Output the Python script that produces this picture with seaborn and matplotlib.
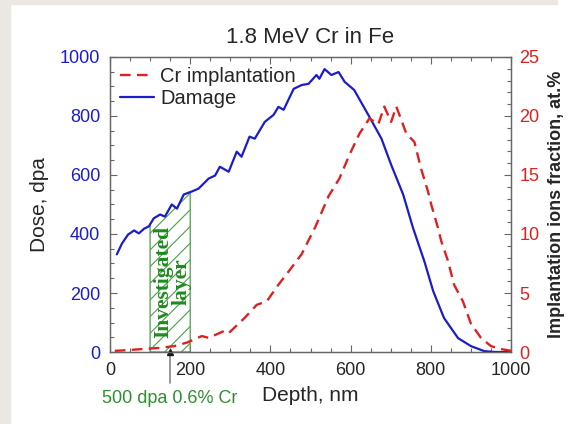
import numpy as np
import pandas as pd
import matplotlib.pyplot as plt
import matplotlib.patches as mpatches
import seaborn as sns

# values
damage_depth = [17, 30, 45, 60, 72, 85, 97, 109, 125, 137, 154, 167, 184, 204, 221,
                246, 262, 274, 296, 316, 328, 348, 361, 386, 408, 420, 433, 458, 478,
                495, 515, 522, 535, 552, 570, 585, 609, 644, 677, 701, 731, 756, 784,
                806, 833, 868, 900, 933, 960, 1000]
damage_dpa = [331, 368, 398, 412, 402, 418, 426, 453, 466, 459, 500, 486, 534, 544, 554,
              588, 598, 628, 611, 679, 662, 730, 723, 780, 804, 831, 821, 892, 905,
              909, 939, 926, 959, 939, 949, 916, 888, 804, 723, 635, 534, 419, 307,
              206, 115, 47, 20, 3, 0, 0]

cr_depth = [12, 40, 80, 125, 160, 192, 229, 246, 286, 296, 336, 366, 391, 420, 445,
            478, 512, 545, 572, 597, 622, 647, 669, 684, 701, 714, 739, 759, 776, 793,
            801, 818, 826, 843, 858, 880, 900, 925, 950, 975, 1000]
cr_frac = [0.1, 0.15, 0.25, 0.35, 0.5, 0.8, 1.35, 1.2, 1.8, 1.6, 2.9, 4.0, 4.3, 5.7, 6.8,
           8.3, 10.6, 13.2, 14.7, 16.7, 18.5, 19.8, 19.3, 20.8, 19.5, 20.8, 18.5, 17.8, 15.5, 13.6,
           12.5, 10.5, 9.4, 7.7, 5.7, 4.3, 2.4, 1.2, 0.5, 0.25, 0.1]

layer_range = (100, 200)
mark_depth = 150

damage_df = pd.DataFrame({"Depth": damage_depth, "Dose": damage_dpa})
cr_df = pd.DataFrame({"Depth": cr_depth, "Fraction": cr_frac})

sns.set_theme(style="ticks")
plt.rcParams['font.family'] = ['Liberation Sans', 'DejaVu Sans']

BLUE = '#1c1ccc'
RED = '#e02020'
GREEN = '#2f8f2f'
GRAY = '#666666'

fig, ax = plt.subplots(figsize=(5.72, 4.24), dpi=100)
fig.subplots_adjust(left=0.1923, right=0.8934, bottom=0.1698, top=0.8656)
fig.patches.append(mpatches.Rectangle((0, 0), 10 / 572, 1, transform=fig.transFigure,
                                      color='#ebe8e4', zorder=-1))
fig.patches.append(mpatches.Rectangle((0, 1 - 4 / 424), 557 / 572, 4 / 424,
                                      transform=fig.transFigure, color='#ebe8e4', zorder=-1))

# hatched investigated layer, under the damage curve
inside = [d for d in damage_depth if layer_range[0] < d < layer_range[1]]
xs = np.array([layer_range[0]] + inside + [layer_range[1]])
ys = np.interp(xs, damage_depth, damage_dpa)
plt.rcParams['hatch.linewidth'] = 0.8
ax.fill_between(xs, 0, ys, facecolor='none', edgecolor='#4a9e4a', hatch='//',
                linewidth=0.9, zorder=1)
ax.text(np.mean(layer_range) + 5, 238, 'Investigated\nlayer', rotation=90,
        ha='center', va='center', color='#1e8a1e', fontsize=15.5, fontweight='bold',
        family=['Liberation Serif', 'DejaVu Serif'], linespacing=0.9, zorder=2)

sns.lineplot(data=damage_df, x="Depth", y="Dose", ax=ax, color=BLUE,
             linewidth=1.6, label='Damage', legend=False, zorder=3)

ax2 = ax.twinx()
sns.lineplot(data=cr_df, x="Depth", y="Fraction", ax=ax2, color=RED,
             linewidth=1.7, label='Cr implantation', legend=False)
ax2.lines[0].set_dashes((4.5, 2.7))

ax.set_xlim(0, 1000)
ax.set_ylim(0, 1000)
ax2.set_ylim(0, 25)
ax.set_xticks(range(0, 1001, 200))
ax.set_xticks(range(0, 1001, 50), minor=True)
ax.set_yticks(range(0, 1001, 200))
ax.set_yticks(range(0, 1001, 50), minor=True)
ax2.set_yticks(range(0, 26, 5))
ax2.set_yticks(range(0, 26, 1), minor=True)

ax.tick_params(which='both', direction='in', top=True, color=GRAY, width=0.8)
ax.tick_params(which='major', length=5, labelsize=13, pad=7)
ax.tick_params(which='minor', length=3)
ax.tick_params(axis='y', labelcolor=BLUE)
ax2.tick_params(which='both', direction='in', color=GRAY, width=0.8)
ax2.tick_params(which='major', length=5, labelsize=13, pad=6, labelcolor=RED)
ax2.tick_params(which='minor', length=3)
for a in (ax, ax2):
    for s in a.spines.values():
        s.set_color(GRAY)
        s.set_linewidth(0.9)

ax.set_title('1.8 MeV Cr in Fe', fontsize=16, pad=10)
ax.set_xlabel('Depth, nm', fontsize=15, labelpad=5)
ax.set_ylabel('Dose, dpa', fontsize=15, labelpad=8)
ax2.set_ylabel('Implantation ions fraction, at.%', fontsize=13, fontweight='bold', labelpad=6)

# marker below the axis at the studied depth
tr = ax.get_xaxis_transform()
ax.plot([mark_depth, mark_depth], [0, -0.105], transform=tr, color='#888888',
        linewidth=1.2, clip_on=False)
ax.plot([mark_depth], [0], transform=tr, marker='^', color='k', markersize=4, clip_on=False)
ax.text(mark_depth, -0.156, '500 dpa 0.6% Cr', transform=tr, ha='center', va='center',
        color=GREEN, fontsize=13)

handles = ax2.get_lines()[:1] + ax.get_lines()[:1]
ax2.legend(handles, ['Cr implantation', 'Damage'], loc='upper left', frameon=False,
           fontsize=14.5, handlelength=1.7, handletextpad=0.3, labelspacing=0.15,
           borderaxespad=0.3, borderpad=0.2)

fig.savefig('out.png', dpi=100)
